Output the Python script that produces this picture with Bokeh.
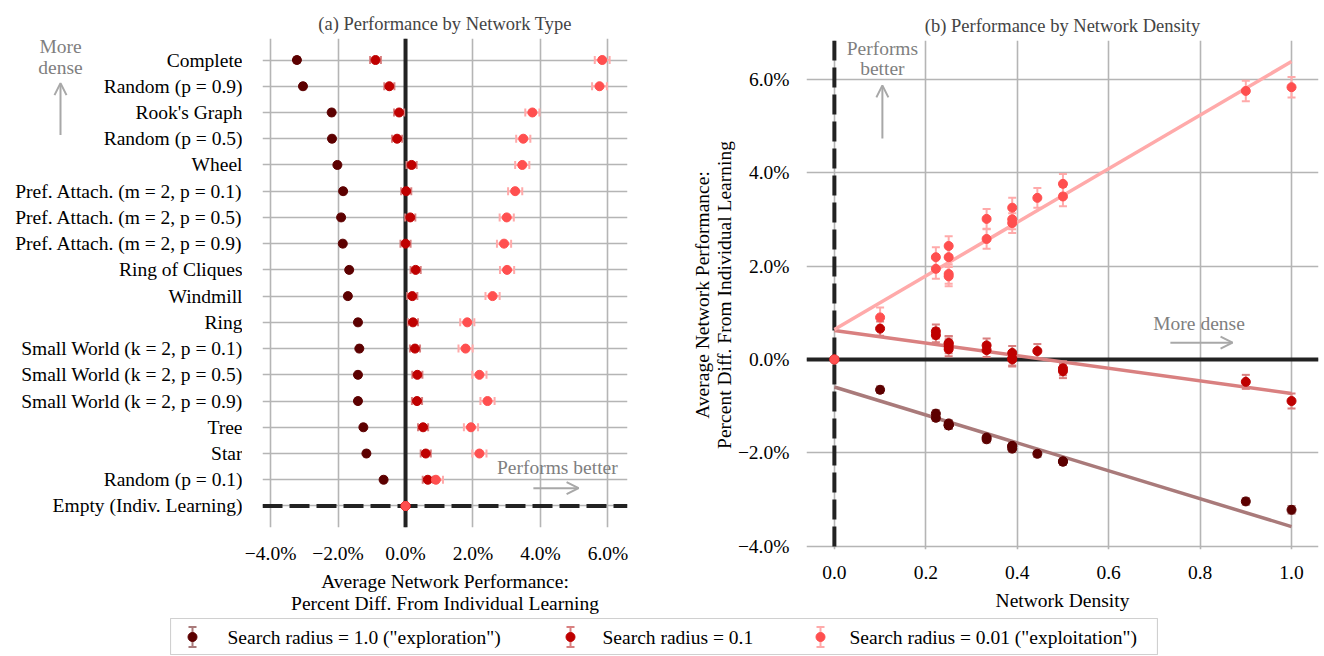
import numpy as np
from bokeh.plotting import figure
from bokeh.models import (ColumnDataSource, Range1d, FixedTicker, Whisker, TeeHead, Span,
                          Label, Arrow, OpenHead, Spacer)
from bokeh.layouts import column, row
from bokeh.core.properties import value
from bokeh.embed import file_html
from bokeh.resources import INLINE

# ---------------- data ----------------
networks = ["Complete", "Random (p = 0.9)", "Rook's Graph", "Random (p = 0.5)", "Wheel",
            "Pref. Attach. (m = 2, p = 0.1)", "Pref. Attach. (m = 2, p = 0.5)",
            "Pref. Attach. (m = 2, p = 0.9)", "Ring of Cliques", "Windmill", "Ring",
            "Small World (k = 2, p = 0.1)", "Small World (k = 2, p = 0.5)",
            "Small World (k = 2, p = 0.9)", "Tree", "Star", "Random (p = 0.1)",
            "Empty (Indiv. Learning)"]
density = [1.0, 0.9, 0.5, 0.5, 0.444, 0.389, 0.389, 0.389, 0.333, 0.333,
           0.25, 0.25, 0.25, 0.25, 0.222, 0.222, 0.1, 0.0]
perf_r1 = [-3.22, -3.04, -2.19, -2.18, -2.02, -1.85, -1.91, -1.86, -1.67, -1.71,
           -1.41, -1.37, -1.41, -1.41, -1.25, -1.16, -0.65, 0.0]
perf_r01 = [-0.89, -0.48, -0.19, -0.25, 0.18, 0.02, 0.14, 0.0, 0.30, 0.20,
            0.22, 0.28, 0.35, 0.34, 0.52, 0.60, 0.66, 0.0]
perf_r001 = [5.83, 5.75, 3.76, 3.49, 3.46, 3.25, 3.00, 2.92, 3.01, 2.58,
             1.83, 1.78, 2.19, 2.43, 1.94, 2.19, 0.90, 0.0]
err_r1 = [0.08, 0.07, 0.07, 0.07, 0.07, 0.07, 0.07, 0.07, 0.07, 0.07,
          0.07, 0.07, 0.07, 0.07, 0.07, 0.07, 0.07, 0.0]
err_r01 = [0.16, 0.15, 0.15, 0.15, 0.15, 0.15, 0.15, 0.15, 0.15, 0.15,
           0.15, 0.15, 0.15, 0.15, 0.15, 0.15, 0.15, 0.0]
err_r001 = [0.22, 0.22, 0.21, 0.21, 0.21, 0.21, 0.21, 0.21, 0.21, 0.21,
            0.21, 0.21, 0.21, 0.21, 0.21, 0.21, 0.21, 0.0]
fit_intercept = [-0.59, 0.62, 0.64]
fit_slope = [-2.99, -1.35, 5.74]
series_labels = ['Search radius = 1.0 ("exploration")', 'Search radius = 0.1',
                 'Search radius = 0.01 ("exploitation")']
x_ticks_left = [-4, -2, 0, 2, 4, 6]
y_ticks_right = [-4, -2, 0, 2, 4, 6]
x_ticks_right = [0.0, 0.2, 0.4, 0.6, 0.8, 1.0]

perf = [perf_r1, perf_r01, perf_r001]
errs = [err_r1, err_r01, err_r001]
dot_colors = ["#5c0000", "#bf0000", "#ff4f4f"]
err_colors = ["#a97a7a", "#d98080", "#ffaaaa"]

FONT = "Liberation Serif"
FS = "19.5px"
GRAY_TXT = "#7f7f7f"
GRAY_ARR = "#a8a8a8"
ZERO = "#222222"
GRID = "#b5b5b5"
LABEL_W = 242          # width of the category-label strip left of panel (a)
TOP, BOTTOM = 38, 91   # borders of panel (a)


def pct(t):
    return f"{t:.1f}%".replace("-", "\u2212")


def style(p):
    p.title.text_font = FONT
    p.title.text_font_size = "18.5px"
    p.title.text_font_style = "normal"
    p.title.align = "center"
    for ax in p.axis:
        ax.axis_line_color = None
        ax.major_tick_line_color = None
        ax.minor_tick_line_color = None
        ax.major_label_text_font = FONT
        ax.major_label_text_font_size = FS
        ax.major_label_text_color = "black"
        ax.axis_label_text_font = FONT
        ax.axis_label_text_font_size = FS
        ax.axis_label_text_font_style = "normal"
        ax.axis_label_text_color = "black"
        ax.axis_label_text_line_height = 1.05
    p.grid.grid_line_color = GRID
    p.grid.grid_line_width = 1.6
    p.outline_line_color = None


def label(p, x, y, text, **kw):
    p.add_layout(Label(x=x, y=y, text=text, text_align="center", text_baseline="middle",
                       text_font=FONT, text_font_size=FS, text_color=GRAY_TXT, **kw))


def arrow(p, xs, ys, xe, ye):
    p.add_layout(Arrow(x_start=xs, y_start=ys, x_end=xe, y_end=ye, line_color=GRAY_ARR,
                       line_width=2,
                       end=OpenHead(size=12, line_color=GRAY_ARR, line_width=2)))


# ---------------- left panel ----------------
rows = list(range(len(networks)))
n = len(rows)
y_rng = Range1d(rows[-1] + 0.82, rows[0] - 0.82)

# category-label strip (acts as the y axis of panel (a))
lab = figure(width=LABEL_W, height=618, x_range=Range1d(0, LABEL_W), y_range=y_rng,
             x_axis_type=None, y_axis_type=None, output_backend="svg", toolbar_location=None,
             min_border_left=0, min_border_right=0, min_border_top=TOP, min_border_bottom=BOTTOM)
lab.grid.visible = False
lab.outline_line_color = None
lab.text(x=[LABEL_W] * n, y=rows, text=networks, text_align="right",
         text_baseline="middle", text_font=value(FONT), text_font_size=value(FS),
         text_color="black")
label(lab, 60, -0.5, "More")
label(lab, 60, 0.27, "dense")
arrow(lab, 60, 2.86, 60, 0.88)

p1 = figure(width=643 - LABEL_W, height=618, x_range=Range1d(-4.24, 6.58), y_range=y_rng,
            y_axis_location=None,
            output_backend="svg", toolbar_location=None,
            min_border_left=262 - LABEL_W, min_border_right=16, min_border_top=TOP,
            min_border_bottom=BOTTOM,
            title="(a) Performance by Network Type")
style(p1)
for g in p1.grid:
    if g.dimension == 1:
        g.ticker = FixedTicker(ticks=rows)
p1.xaxis.ticker = FixedTicker(ticks=x_ticks_left)
p1.xaxis.major_label_overrides = {t: pct(t) for t in x_ticks_left}
p1.xaxis.major_label_standoff = 9
p1.xaxis.axis_label = "Average Network Performance:\nPercent Diff. From Individual Learning"
p1.xaxis.axis_label_standoff = 4

p1.add_layout(Span(location=0, dimension="height", line_color=ZERO, line_width=4, level="underlay"))
p1.add_layout(Span(location=rows[-1], dimension="width", line_color=ZERO, line_width=4,
                   line_dash="20 7", level="underlay"))

for vals, er, dc, ec in zip(perf, errs, dot_colors, err_colors):
    src = ColumnDataSource(dict(y=rows, x=vals,
                                lo=[v - e for v, e in zip(vals, er)],
                                hi=[v + e for v, e in zip(vals, er)]))
    p1.add_layout(Whisker(base="y", lower="lo", upper="hi", dimension="width", source=src,
                          line_color=ec, line_width=2,
                          upper_head=TeeHead(size=8, line_color=ec, line_width=2),
                          lower_head=TeeHead(size=8, line_color=ec, line_width=2)))
    p1.scatter("x", "y", source=src, size=9, color=dc, line_color=dc)

label(p1, 4.5, 15.55, "Performs better")
arrow(p1, 3.79, 16.32, 5.13, 16.32)

# ---------------- right panel ----------------
p2 = figure(width=681, height=618, x_range=Range1d(-0.061, 1.059), y_range=Range1d(-4.07, 6.83),
            output_backend="svg", toolbar_location=None,
            min_border_left=163, min_border_right=6, min_border_top=40, min_border_bottom=69,
            title="(b) Performance by Network Density")
style(p2)
p2.xaxis.ticker = FixedTicker(ticks=x_ticks_right)
p2.xaxis.major_label_overrides = {t: f"{t:.1f}" for t in x_ticks_right}
p2.xaxis.major_label_standoff = 10
p2.xaxis.axis_label = "Network Density"
p2.xaxis.axis_label_standoff = 8
p2.yaxis.ticker = FixedTicker(ticks=y_ticks_right)
p2.yaxis.major_label_overrides = {t: pct(t) for t in y_ticks_right}
p2.yaxis.major_label_standoff = 11
p2.yaxis.axis_label = "Average Network Performance:\nPercent Diff. From Individual Learning"
p2.yaxis.axis_label_standoff = 0

p2.add_layout(Span(location=0, dimension="width", line_color=ZERO, line_width=4, level="underlay"))
p2.add_layout(Span(location=0, dimension="height", line_color=ZERO, line_width=4,
                   line_dash="20 7", level="underlay"))

fit_x = [min(density), max(density)]
for b0, b1, ec in zip(fit_intercept, fit_slope, err_colors):
    p2.line(fit_x, [b0 + b1 * x for x in fit_x], line_color=ec, line_width=3.5)

for vals, er, dc, ec in zip(perf, errs, dot_colors, err_colors):
    src = ColumnDataSource(dict(x=density, y=vals,
                                lo=[v - e for v, e in zip(vals, er)],
                                hi=[v + e for v, e in zip(vals, er)]))
    p2.add_layout(Whisker(base="x", lower="lo", upper="hi", dimension="height", source=src,
                          line_color=ec, line_width=2,
                          upper_head=TeeHead(size=8, line_color=ec, line_width=2),
                          lower_head=TeeHead(size=8, line_color=ec, line_width=2)))
    p2.scatter("x", "y", source=src, size=9, color=dc, line_color=dc)

label(p2, 0.105, 6.66, "Performs")
label(p2, 0.105, 6.23, "better")
arrow(p2, 0.105, 4.73, 0.105, 5.87)
label(p2, 0.803, 0.77, "More  dense")
arrow(p2, 0.735, 0.36, 0.871, 0.36)

# ---------------- legend ----------------
LW, LH = 988, 37
leg = figure(width=LW, height=LH, x_range=Range1d(0, LW), y_range=Range1d(0, LH),
             x_axis_type=None, y_axis_type=None, output_backend="svg", toolbar_location=None,
             min_border=0)
leg.grid.visible = False
leg.outline_line_color = "#d0d0d0"
leg.outline_line_width = 1.2
sym_x = [22, 400, 650]
txt_x = [57, 432, 679]
yc = LH / 2
for sx, tx, lb, dc, ec in zip(sym_x, txt_x, series_labels, dot_colors, err_colors):
    s = ColumnDataSource(dict(x=[sx], y=[yc], lo=[yc - 10], hi=[yc + 10]))
    leg.add_layout(Whisker(base="x", lower="lo", upper="hi", dimension="height", source=s,
                           line_color=ec, line_width=2,
                           upper_head=TeeHead(size=8, line_color=ec, line_width=2),
                           lower_head=TeeHead(size=8, line_color=ec, line_width=2)))
    leg.scatter("x", "y", source=s, size=9, color=dc, line_color=dc)
    leg.add_layout(Label(x=tx, y=yc, text=lb, text_align="left", text_baseline="middle",
                         text_font=FONT, text_font_size=FS, text_color="black"))

layout = column(row(column(lab), column(p1), column(p2)),
                row(Spacer(width=170, height=LH), leg))
open("out.html", "w").write(file_html(layout, INLINE))
